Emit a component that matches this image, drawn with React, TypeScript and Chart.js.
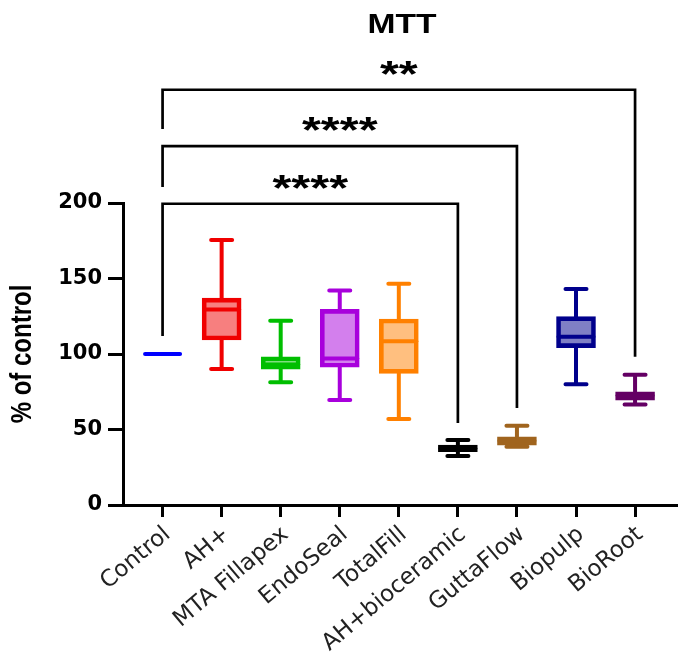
import React, { useEffect, useRef } from "react";
import { Chart, registerables } from "chart.js";

Chart.register(...registerables);

// ---- data ----
const categories = [
  "Control",
  "AH+",
  "MTA Fillapex",
  "EndoSeal",
  "TotalFill",
  "AH+bioceramic",
  "GuttaFlow",
  "Biopulp",
  "BioRoot",
];
const whiskerMin = [100, 90, 81.3, 69.5, 57, 32.5, 38.6, 80, 66.5];
const q1Values = [100, 109.3, 89.9, 91.2, 87.2, 35.3, 39.7, 104.2, 69.5];
const medianValues = [100, 129.5, 93, 97, 108.4, 37.5, 42.5, 111.5, 72.5];
const q3Values = [100, 137, 98.2, 129.6, 123.2, 39.7, 45.2, 124.7, 75];
const whiskerMax = [100, 175.5, 122, 142, 146.5, 43, 52.5, 143, 86.3];
const yTickValues = [0, 50, 100, 150, 200];

// significance brackets (group indexes and heights in % of control)
const bracketFrom = [0, 0, 0];
const bracketTo = [5, 6, 8];
const bracketLevel = [199.5, 237.7, 275];
const bracketLeftEnd = [112, 210.6, 249];
const bracketRightEnd = [54.3, 64.2, 98.2];
const bracketLabels = ["****", "****", "**"];

const chartTitle = "MTT";
const yTitle = "% of control";

// ---- styles ----
const lineColors = [
  "#0000FF",
  "#F00000",
  "#00BE00",
  "#A800DC",
  "#FF8000",
  "#000000",
  "#A0641E",
  "#00008C",
  "#640064",
];
const hexToRgba = (hex: string, a: number) => {
  const n = parseInt(hex.slice(1), 16);
  return `rgba(${(n >> 16) & 255},${(n >> 8) & 255},${n & 255},${a})`;
};
const fillColors = lineColors.map((c) => hexToRgba(c, 0.5));

const STRETCH = 1.2;

const boxExtras = {
  id: "boxExtras",
  afterDatasetsDraw(chart: any) {
    const { ctx } = chart;
    const x = chart.scales.x;
    const y = chart.scales.y;
    ctx.save();
    ctx.lineCap = "round";
    ctx.lineWidth = 4;
    categories.forEach((_, i) => {
      const cx = x.getPixelForValue(i);
      const yMax = y.getPixelForValue(whiskerMax[i]);
      const yMin = y.getPixelForValue(whiskerMin[i]);
      const yQ1 = y.getPixelForValue(q1Values[i]);
      const yQ3 = y.getPixelForValue(q3Values[i]);
      const yMed = y.getPixelForValue(medianValues[i]);
      ctx.strokeStyle = lineColors[i];
      ctx.beginPath();
      if (whiskerMax[i] > q3Values[i]) {
        ctx.moveTo(cx, yQ3);
        ctx.lineTo(cx, yMax);
        ctx.moveTo(cx - 10.5, yMax);
        ctx.lineTo(cx + 10.5, yMax);
      }
      if (whiskerMin[i] < q1Values[i]) {
        ctx.moveTo(cx, yQ1);
        ctx.lineTo(cx, yMin);
        ctx.moveTo(cx - 10.5, yMin);
        ctx.lineTo(cx + 10.5, yMin);
      }
      ctx.stroke();
      ctx.beginPath();
      ctx.moveTo(cx - 17.5, yMed);
      ctx.lineTo(cx + 17.5, yMed);
      ctx.stroke();
    });
    ctx.restore();
  },
  afterDraw(chart: any) {
    const { ctx, chartArea } = chart;
    const x = chart.scales.x;
    const y = chart.scales.y;
    ctx.save();
    // brackets
    ctx.strokeStyle = "#000";
    ctx.lineWidth = 2.7;
    ctx.lineCap = "butt";
    ctx.lineJoin = "miter";
    ctx.fillStyle = "#000";
    bracketFrom.forEach((from, k) => {
      const xl = x.getPixelForValue(from);
      const xr = x.getPixelForValue(bracketTo[k]);
      const yl = y.getPixelForValue(bracketLevel[k]);
      ctx.beginPath();
      ctx.moveTo(xl, y.getPixelForValue(bracketLeftEnd[k]));
      ctx.lineTo(xl, yl);
      ctx.lineTo(xr, yl);
      ctx.lineTo(xr, y.getPixelForValue(bracketRightEnd[k]));
      ctx.stroke();
      ctx.save();
      ctx.translate((xl + xr) / 2, yl - 3);
      ctx.scale(1.35, 1);
      ctx.font = "bold 36px 'Liberation Sans', Arial, sans-serif";
      ctx.textAlign = "center";
      ctx.textBaseline = "alphabetic";
      ctx.fillText(bracketLabels[k], 0, 0);
      ctx.restore();
    });
    // chart title
    ctx.save();
    ctx.translate((chartArea.left + chartArea.right) / 2 + 2, 25);
    ctx.scale(STRETCH, 1);
    ctx.font = "bold 28px 'Liberation Sans', Arial, sans-serif";
    ctx.textAlign = "center";
    ctx.textBaseline = "alphabetic";
    ctx.fillText(chartTitle, 0, 0);
    ctx.restore();
    // y axis title
    ctx.save();
    ctx.translate(chartArea.left - 100, (chartArea.top + chartArea.bottom) / 2);
    ctx.scale(STRETCH, 1);
    ctx.rotate(-Math.PI / 2);
    ctx.font = "bold 24px 'Liberation Sans', Arial, sans-serif";
    ctx.textAlign = "center";
    ctx.textBaseline = "middle";
    ctx.fillText(yTitle, 0, 0);
    ctx.restore();
    ctx.restore();
  },
};

export default function App() {
  const ref = useRef<HTMLCanvasElement | null>(null);
  useEffect(() => {
    if (!ref.current) return;
    const chart = new Chart(ref.current, {
      type: "bar",
      data: {
        datasets: [
          {
            data: categories.map((_, i) => ({ x: i, y: [q1Values[i], q3Values[i]] })) as any,
            backgroundColor: fillColors,
            borderColor: lineColors,
            borderWidth: 4,
            borderSkipped: false,
            barThickness: 39,
          },
        ],
      },
      options: {
        animation: false,
        responsive: true,
        maintainAspectRatio: false,
        layout: { padding: { top: 195, right: 6, left: 0, bottom: 0 } },
        plugins: {
          legend: { display: false },
          tooltip: { enabled: false },
          title: { display: false },
        },
        scales: {
          x: {
            type: "linear",
            min: -0.67,
            max: 8.71,
            offset: false,
            afterBuildTicks: (s: any) => {
              s.ticks = categories.map((_, i) => ({ value: i }));
            },
            afterFit: (s: any) => {
              s.height = 158;
            },
            grid: {
              offset: false,
              drawOnChartArea: false,
              drawTicks: true,
              tickLength: 12,
              tickWidth: 3,
              tickColor: "#000",
            },
            border: { display: true, color: "#000", width: 3 },
            ticks: {
              autoSkip: false,
              minRotation: 40,
              maxRotation: 40,
              padding: 4,
              labelOffset: 5,
              color: "#222",
              font: { family: "'DejaVu Sans', sans-serif", size: 23 },
              callback: (v: any) => categories[v as number] ?? "",
            },
          },
          y: {
            type: "linear",
            min: 0,
            max: 200,
            afterBuildTicks: (s: any) => {
              s.ticks = yTickValues.map((v) => ({ value: v }));
            },
            afterFit: (s: any) => {
              s.width = 115;
            },
            grid: {
              drawOnChartArea: false,
              drawTicks: true,
              tickLength: 15,
              tickWidth: 3,
              tickColor: "#000",
            },
            border: { display: true, color: "#000", width: 3 },
            ticks: {
              padding: 6,
              color: "#000",
              font: { family: "'DejaVu Sans', sans-serif", size: 21, weight: "bold" },
            },
          },
        },
      } as any,
      plugins: [boxExtras],
    });
    return () => chart.destroy();
  }, []);
  return (
    <div style={{ width: 675, height: 655, position: "relative" }}>
      <canvas ref={ref} />
    </div>
  );
}
